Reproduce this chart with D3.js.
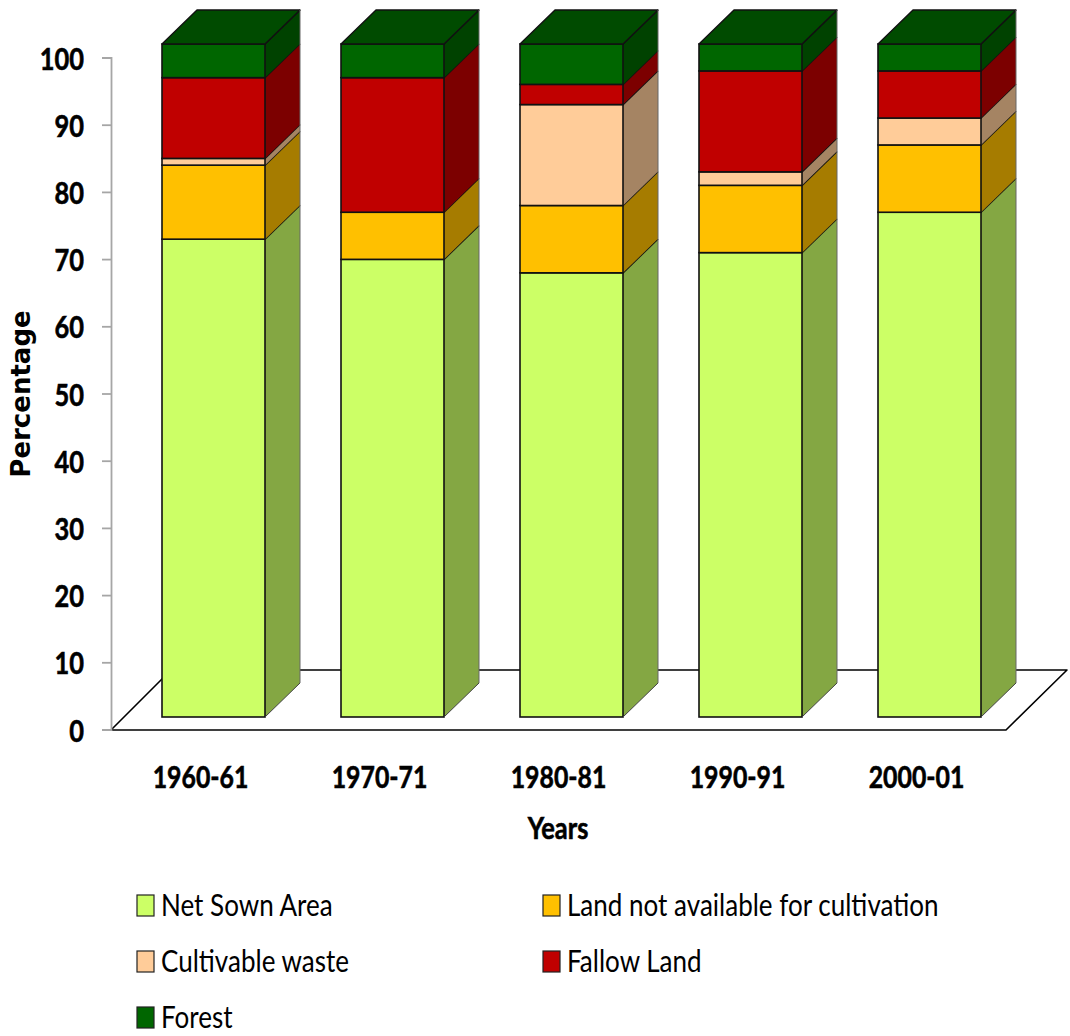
<!DOCTYPE html>
<html>
<head>
<meta charset="utf-8">
<script src="https://cdn.jsdelivr.net/npm/d3@7/dist/d3.min.js"></script>
<style>
html, body { margin: 0; padding: 0; background: #fff; }
svg { display: block; }
text { fill: #000; }
.heavy { stroke: #000; stroke-width: 0.6px; }
</style>
</head>
<body>
<svg id="chart" width="1070" height="1036"></svg>
<script>
// Land use shares by census year, stacked bottom to top
const years = ["1960-61", "1970-71", "1980-81", "1990-91", "2000-01"];
const seriesNames = ["Net Sown Area", "Land not available for cultivation", "Cultivable waste", "Fallow Land", "Forest"];
const netSown = [71, 68, 66, 69, 75];
const notAvailable = [11, 7, 10, 10, 10];
const waste = [1, 0, 15, 2, 4];
const fallow = [12, 20, 3, 15, 7];
const forest = [5, 5, 6, 4, 4];
const yTicks = [0, 10, 20, 30, 40, 50, 60, 70, 80, 90, 100];

const frontColors = ["#ccff66", "#ffc000", "#ffcc99", "#c00000", "#006600"];
const sideColors = ["#84a743", "#a67c00", "#a58463", "#7c0000", "#004200"];
const topColor = "#004b00";

const svg = d3.select("#chart");
const depthX = 35, depthY = -34;

const x = d3.scaleBand().domain(years).range([111, 1006]);
const yAxisScale = d3.scaleLinear().domain([0, 100]).range([729.5, 57.5]);
const yFront = d3.scaleLinear().domain([0, 100]).range([717, 44]);

const rows = years.map((year, i) => ({
  year,
  values: [netSown[i], notAvailable[i], waste[i], fallow[i], forest[i]]
}));

// Floor of the 3D plot
const floor = svg.append("g");
floor.append("path")
  .attr("d", "M111,730 L171,670 L1067,670 L1006,730 Z")
  .attr("fill", "#fff").attr("stroke", "#000").attr("stroke-width", 1.6)
  .attr("stroke-linejoin", "round");

// Value axis
const yAxis = svg.append("g")
  .attr("transform", "translate(111,0)")
  .call(d3.axisLeft(yAxisScale).tickValues(yTicks).tickSize(9).tickPadding(0));
yAxis.select(".domain").attr("stroke", "#a6a6a6").attr("stroke-width", 1.8);
yAxis.selectAll(".tick line").attr("stroke", "#a6a6a6").attr("stroke-width", 1.8);
yAxis.selectAll(".tick text")
  .attr("class", "heavy")
  .attr("x", null).attr("dy", null).attr("y", 11.5)
  .attr("text-anchor", "end")
  .attr("transform", "translate(-27,0) scale(0.82,1)")
  .style("font", "700 31px Lato");

// Stacked prisms
const barLeft = d => x(d) + 51;
const barWidth = 103;
const bars = svg.append("g").selectAll("g").data(rows).join("g");

bars.each(function (row) {
  const g = d3.select(this);
  const x0 = barLeft(row.year), x1 = x0 + barWidth;
  let cum = 0;
  row.values.forEach((v, s) => {
    const start = cum;
    cum += v;
    if (v === 0) return;
    const yb = yFront(start), yt = yFront(cum);
    g.append("polygon")
      .attr("points", [[x1, yb], [x1 + depthX, yb + depthY], [x1 + depthX, yt + depthY], [x1, yt]].join(" "))
      .attr("fill", sideColors[s]);
    g.append("rect")
      .attr("x", x0).attr("y", yt).attr("width", barWidth).attr("height", yb - yt)
      .attr("fill", frontColors[s]).attr("stroke", "#111").attr("stroke-width", 1.6);
    g.append("line")
      .attr("x1", x1).attr("y1", yt).attr("x2", x1 + depthX).attr("y2", yt + depthY)
      .attr("stroke", "#111").attr("stroke-width", 1.6);
  });
  const top = yFront(100), bottom = yFront(0);
  g.append("polygon")
    .attr("points", [[x0, top], [x0 + depthX, top + depthY], [x1 + depthX, top + depthY], [x1, top]].join(" "))
    .attr("fill", topColor).attr("stroke", "#111").attr("stroke-width", 1.4).attr("stroke-linejoin", "round");
  g.append("line")
    .attr("x1", x1 + depthX).attr("y1", top + depthY).attr("x2", x1 + depthX).attr("y2", bottom + depthY)
    .attr("stroke", "#666").attr("stroke-width", 1);
  g.append("line")
    .attr("x1", x1).attr("y1", bottom).attr("x2", x1 + depthX).attr("y2", bottom + depthY)
    .attr("stroke", "#444").attr("stroke-width", 1);
});

// Category axis: labels only
const xAxis = svg.append("g")
  .attr("transform", "translate(0,730)")
  .call(d3.axisBottom(x).tickSize(0).tickPadding(0));
xAxis.select(".domain").remove();
xAxis.selectAll(".tick text")
  .attr("class", "heavy")
  .attr("y", null).attr("dy", null)
  .attr("text-anchor", "middle")
  .attr("transform", "translate(0,58) scale(0.8,1)")
  .style("font", "700 31px Lato");

svg.append("text")
  .attr("class", "heavy")
  .attr("transform", "translate(558,839) scale(0.82,1)")
  .attr("text-anchor", "middle")
  .style("font", "700 31px Lato")
  .text("Years");

svg.append("text")
  .attr("transform", "translate(30,394) rotate(-90)")
  .attr("text-anchor", "middle")
  .style("font", "700 26px 'DejaVu Sans'")
  .text("Percentage");

// Legend, two columns filled row by row
const legendX = [137, 543];
const legendY = [895, 951, 1007];
const legend = svg.append("g").selectAll("g").data(seriesNames).join("g")
  .attr("transform", (d, i) => `translate(${legendX[i % 2]},${legendY[Math.floor(i / 2)]})`);
legend.append("rect")
  .attr("width", 17).attr("height", 21)
  .attr("fill", (d, i) => frontColors[i])
  .attr("stroke", "#222").attr("stroke-width", 1.2);
legend.append("text")
  .attr("transform", "translate(24,21) scale(0.84,1)")
  .style("font", "400 31px Lato")
  .text(d => d);
</script>
</body>
</html>
